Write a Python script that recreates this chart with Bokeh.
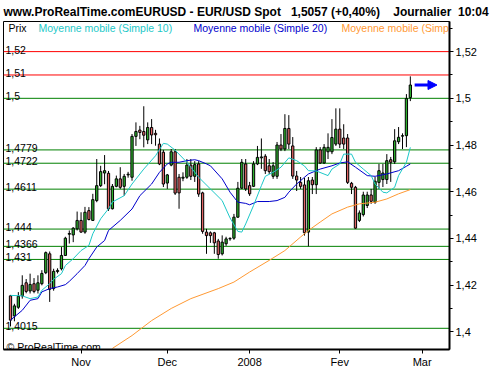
from bokeh.plotting import figure
from bokeh.models import ColumnDataSource, Span, FixedTicker, Arrow, NormalHead, Range1d
from bokeh.core.properties import value
from bokeh.embed import file_html
from bokeh.resources import INLINE

# ---------------- data ----------------
opens = [1.4154,1.4068,1.4105,1.4154,1.4210,1.4175,1.4206,1.4178,1.4206,1.4253,
 1.4334,1.4185,1.4258,1.4270,1.4327,1.4418,1.4415,1.4441,1.4477,1.4427,
 1.4519,1.4477,1.4562,1.4626,1.4680,1.4679,1.4527,1.4623,1.4655,1.4623,
 1.4672,1.4662,1.4837,1.4864,1.4858,1.4822,1.4875,1.4850,1.4804,1.4769,
 1.4637,1.4714,1.4771,1.4662,1.4658,1.4662,1.4714,1.4666,1.4719,1.4595,
 1.4427,1.4424,1.4424,1.4389,1.4334,1.4377,1.4398,1.4401,1.4491,1.4615,
 1.4719,1.4626,1.4623,1.4719,1.4745,1.4752,1.4711,1.4666,1.4666,1.4800,
 1.4783,1.4871,1.4796,1.4667,1.4640,1.4629,1.4427,1.4650,1.4630,1.4779,
 1.4723,1.4771,1.4771,1.4804,1.4868,1.4830,1.4830,1.4636,1.4619,1.4477,
 1.4502,1.4541,1.4586,1.4555,1.4640,1.4652,1.4652,1.4737,1.4728,1.4814,
 1.4838,1.4840,1.5003]
highs = [1.4158,1.4120,1.4170,1.4242,1.4226,1.4249,1.4230,1.4242,1.4264,1.4344,
 1.4344,1.4270,1.4272,1.4363,1.4407,1.4434,1.4448,1.4515,1.4512,1.4535,
 1.4534,1.4591,1.4740,1.4711,1.4757,1.4689,1.4633,1.4669,1.4705,1.4676,
 1.4685,1.4847,1.4897,1.4882,1.4966,1.4897,1.4911,1.4865,1.4828,1.4779,
 1.4676,1.4783,1.4783,1.4676,1.4683,1.4740,1.4740,1.4731,1.4731,1.4600,
 1.4441,1.4430,1.4428,1.4398,1.4413,1.4407,1.4405,1.4505,1.4642,1.4740,
 1.4740,1.4642,1.4731,1.4796,1.4828,1.4761,1.4740,1.4727,1.4813,1.4847,
 1.4932,1.4928,1.4834,1.4689,1.4663,1.4660,1.4663,1.4663,1.4791,1.4791,
 1.4804,1.4850,1.4911,1.4957,1.4957,1.4889,1.4847,1.4642,1.4625,1.4520,
 1.4600,1.4600,1.4612,1.4663,1.4719,1.4719,1.4761,1.4749,1.4868,1.4877,
 1.4850,1.5018,1.5094]
lows = [1.4023,1.4045,1.4098,1.4142,1.4165,1.4164,1.4165,1.4164,1.4199,1.4247,
 1.4128,1.4176,1.4250,1.4263,1.4325,1.4378,1.4384,1.4434,1.4424,1.4420,
 1.4477,1.4475,1.4555,1.4620,1.4632,1.4518,1.4524,1.4619,1.4612,1.4583,
 1.4660,1.4647,1.4796,1.4825,1.4790,1.4804,1.4804,1.4797,1.4714,1.4620,
 1.4612,1.4709,1.4586,1.4527,1.4645,1.4655,1.4650,1.4642,1.4578,1.4420,
 1.4334,1.4381,1.4334,1.4313,1.4327,1.4368,1.4390,1.4394,1.4488,1.4612,
 1.4603,1.4582,1.4620,1.4714,1.4698,1.4676,1.4676,1.4655,1.4655,1.4774,
 1.4774,1.4783,1.4655,1.4603,1.4612,1.4412,1.4366,1.4590,1.4590,1.4719,
 1.4719,1.4740,1.4761,1.4796,1.4787,1.4783,1.4633,1.4590,1.4441,1.4470,
 1.4494,1.4530,1.4548,1.4548,1.4612,1.4620,1.4633,1.4642,1.4719,1.4804,
 1.4783,1.4791,1.4988]
closes = [1.4050,1.4111,1.4152,1.4199,1.4173,1.4203,1.4173,1.4210,1.4250,1.4339,
 1.4182,1.4259,1.4263,1.4327,1.4401,1.4421,1.4444,1.4477,1.4427,1.4512,
 1.4481,1.4566,1.4626,1.4686,1.4690,1.4527,1.4623,1.4655,1.4619,1.4666,
 1.4675,1.4837,1.4858,1.4854,1.4842,1.4875,1.4843,1.4844,1.4719,1.4633,
 1.4672,1.4771,1.4594,1.4595,1.4662,1.4714,1.4666,1.4716,1.4590,1.4430,
 1.4412,1.4412,1.4381,1.4331,1.4384,1.4398,1.4400,1.4491,1.4615,1.4726,
 1.4612,1.4591,1.4719,1.4747,1.4749,1.4690,1.4686,1.4711,1.4800,1.4783,
 1.4871,1.4804,1.4667,1.4650,1.4623,1.4424,1.4647,1.4630,1.4779,1.4723,
 1.4790,1.4790,1.4832,1.4868,1.4804,1.4804,1.4640,1.4619,1.4444,1.4509,
 1.4586,1.4586,1.4559,1.4645,1.4690,1.4680,1.4733,1.4726,1.4818,1.4833,
 1.4840,1.4999,1.5057]

ma10_idx = [0,3,5,7,8,10,11,13,14,16,18,20,21,23,25,26,29,31,34,37,39,40,42,45,48,51,54,56,58,59,60,62,64,65,67,69,71,73,75,76,78,81,82,84,85,87,88,90,92,93,95,96,98,99,101,102]
ma10_val = [1.4156,1.4154,1.4142,1.4149,1.4178,1.4206,1.4225,1.4249,1.4284,1.4313,1.4348,1.4370,1.4420,1.4484,1.4527,1.4556,1.4583,1.4633,1.4697,1.4754,1.4807,1.4804,1.4778,1.4726,1.4662,1.4612,1.4562,1.4488,1.4430,1.4427,1.4462,1.4541,1.4626,1.4666,1.4683,1.4705,1.4745,1.4733,1.4710,1.4690,1.4689,1.4669,1.4697,1.4719,1.4761,1.4761,1.4726,1.4697,1.4669,1.4633,1.4598,1.4595,1.4619,1.4669,1.4726,1.4790]

ma20_idx = [0,3,5,7,8,10,12,14,15,17,19,20,22,24,25,28,31,33,36,38,40,41,43,45,47,48,50,51,54,56,58,60,61,63,66,68,70,71,73,75,76,79,82,84,86,88,91,93,96,99,101,102]
ma20_val = [1.4050,1.4092,1.4135,1.4142,1.4171,1.4185,1.4192,1.4202,1.4216,1.4249,1.4284,1.4313,1.4363,1.4391,1.4434,1.4477,1.4526,1.4583,1.4633,1.4683,1.4719,1.4726,1.4726,1.4733,1.4737,1.4733,1.4719,1.4711,1.4655,1.4598,1.4555,1.4550,1.4544,1.4558,1.4558,1.4562,1.4576,1.4598,1.4633,1.4662,1.4676,1.4697,1.4711,1.4723,1.4728,1.4705,1.4669,1.4666,1.4676,1.4690,1.4709,1.4719]

ma3_idx = [26,31,36,41,46,53,57,61,66,70,74,76,79,82,86,89,93,96,99,102]
ma3_val = [1.3929,1.3984,1.4048,1.4100,1.4142,1.4185,1.4213,1.4256,1.4306,1.4348,1.4406,1.4434,1.4470,1.4505,1.4534,1.4548,1.4555,1.4569,1.4591,1.4609]

level_vals = [1.52, 1.51, 1.5, 1.4779, 1.4722, 1.4611, 1.444, 1.4366, 1.431, 1.4015]
level_text = ["1,52", "1,51", "1,5", "1,4779", "1,4722", "1,4611", "1,444", "1,4366", "1,431", "1,4015"]
level_kind = ["r", "r", "g", "g", "g", "g", "g", "g", "g", "g"]

ytick_vals = [1.40, 1.42, 1.44, 1.46, 1.48, 1.50, 1.52]
ytick_text = ["1,4", "1,42", "1,44", "1,46", "1,48", "1,5", "1,52"]
yminor_vals = [1.41, 1.43, 1.45, 1.47, 1.49, 1.51, 1.53]

xtick_idx = [18, 40, 61, 84, 105]
xtick_text = ["Nov", "Dec", "2008", "Fev", "Mar"]

title_parts = ["www.ProRealTime.comEURUSD - EUR/USD Spot", "1,5057 (+0,40%)", "Journalier", "10:04"]
title_gaps = [3, 4, 2]
legend_text = ["Prix", "Moyenne mobile (Simple 10)", "Moyenne mobile (Simple 20)", "Moyenne mobile (Simple 100)"]
last_price = 1.5057

# ---------------- layout ----------------
FONT = "Liberation Sans"
W, H = 500, 370
FL, FT, BR, BB = 3, 21, 51, 20
FW = W - FL - BR
FH = H - FT - BB
PX_PER_K = 3.92
PX_PER_UNIT = 2342.0
X0 = -7.0 / PX_PER_K
X1 = X0 + FW / PX_PER_K
Y1 = 1.5329
Y0 = Y1 - FH / PX_PER_UNIT

def kx(lx):
    return X0 + (lx - FL) * (X1 - X0) / FW

def vy(ly):
    return Y1 - (ly - FT) * (Y1 - Y0) / FH

GREEN_BODY = "#2DB02D"
RED_BODY = "#E06464"
CYAN = "#1CC8C8"
BLUE = "#0000CC"
ORANGE = "#FF9933"
LEVEL_COL = {"r": "#FF0000", "g": "#008000"}

title_text = title_parts[0]
for gap, part in zip(title_gaps, title_parts[1:]):
    title_text += "\u00a0" * gap + part

p = figure(width=W, height=H, x_range=Range1d(X0, X1), y_range=Range1d(Y0, Y1),
           output_backend="svg", toolbar_location=None, title=title_text,
           y_axis_location="right",
           min_border_left=FL, min_border_right=BR, min_border_top=FT, min_border_bottom=BB)
p.title.text_font = FONT
p.title.text_font_size = "12px"
p.title.text_font_style = "bold"
p.title.text_color = "black"
p.title.align = "left"
p.title.standoff = 5
p.title.offset = 0

p.xgrid.visible = False
p.ygrid.visible = False
p.background_fill_color = "white"
p.border_fill_color = "white"
p.outline_line_color = "black"
p.outline_line_width = 1

# level lines
for v, kind in zip(level_vals, level_kind):
    p.add_layout(Span(location=v, dimension="width", line_color=LEVEL_COL[kind], line_width=1, level="underlay"))

lsrc = ColumnDataSource(dict(x=[kx(5)] * len(level_vals), y=level_vals, t=level_text))
p.text(x="x", y="y", text="t", source=lsrc, text_font=value(FONT), text_font_size=value("10.5px"),
       text_color="black", text_baseline="alphabetic", y_offset=-2)

# candles
idx = list(range(len(closes)))
src = ColumnDataSource(dict(
    k=idx, o=opens, h=highs, l=lows, c=closes,
    top=[max(o, c) for o, c in zip(opens, closes)],
    bot=[min(o, c) for o, c in zip(opens, closes)],
    col=[GREEN_BODY if c >= o else RED_BODY for o, c in zip(opens, closes)]))
p.segment(x0="k", y0="l", x1="k", y1="h", source=src, line_color="black", line_width=1)
p.vbar(x="k", width=0.58, top="top", bottom="bot", source=src, fill_color="col", line_color="black", line_width=1)

# moving averages
p.line(ma3_idx, ma3_val, line_color=ORANGE, line_width=1)
p.line(ma20_idx, ma20_val, line_color=BLUE, line_width=1)
p.line(ma10_idx, ma10_val, line_color=CYAN, line_width=1)

# legend row (inside frame, clipped at its right edge)
leg_x = [8, 38, 193, 341]
leg_col = ["black", CYAN, BLUE, ORANGE]
gsrc = ColumnDataSource(dict(x=[kx(v) for v in leg_x], y=[vy(22)] * 4, t=legend_text, c=leg_col))
p.text(x="x", y="y", text="t", text_color="c", source=gsrc, text_font=value(FONT),
       text_font_size=value("10.5px"), text_baseline="top")

# copyright
csrc = ColumnDataSource(dict(x=[kx(6)], y=[vy(347)], t=["\u00a9 ProRealTime.com"]))
p.text(x="x", y="y", text="t", source=csrc, text_font=value(FONT), text_font_size=value("10.5px"),
       text_baseline="alphabetic", text_color="black")

# arrow to current price
p.add_layout(Arrow(end=NormalHead(size=9, fill_color="#0000FF", line_color="#0000FF"),
                   x_start=idx[-1] + 1.1, y_start=last_price, x_end=idx[-1] + 6.8, y_end=last_price,
                   line_color="#0000FF", line_width=3))

# right axis
ya = p.yaxis[0]
ya.ticker = FixedTicker(ticks=ytick_vals, minor_ticks=yminor_vals)
ya.major_label_overrides = {v: t for v, t in zip(ytick_vals, ytick_text)}
ya.axis_line_width = 2
ya.axis_line_color = "black"
ya.major_tick_line_color = "black"
ya.minor_tick_line_color = "black"
ya.major_tick_out = 4
ya.major_tick_in = 0
ya.minor_tick_out = 3
ya.minor_tick_in = 0
ya.major_label_standoff = 2
ya.major_label_text_font = FONT
ya.major_label_text_font_size = "11px"
ya.major_label_text_color = "black"

# bottom axis
xa = p.xaxis[0]
xa.ticker = FixedTicker(ticks=xtick_idx)
xa.major_label_overrides = {k: t for k, t in zip(xtick_idx, xtick_text)}
xa.axis_line_width = 2
xa.axis_line_color = "black"
xa.major_tick_line_color = "black"
xa.major_tick_out = 4
xa.major_tick_in = 0
xa.minor_tick_line_color = None
xa.major_label_standoff = 2
xa.major_label_text_font = FONT
xa.major_label_text_font_size = "11px"
xa.major_label_text_color = "black"

open("out.html", "w").write(file_html(p, INLINE))
